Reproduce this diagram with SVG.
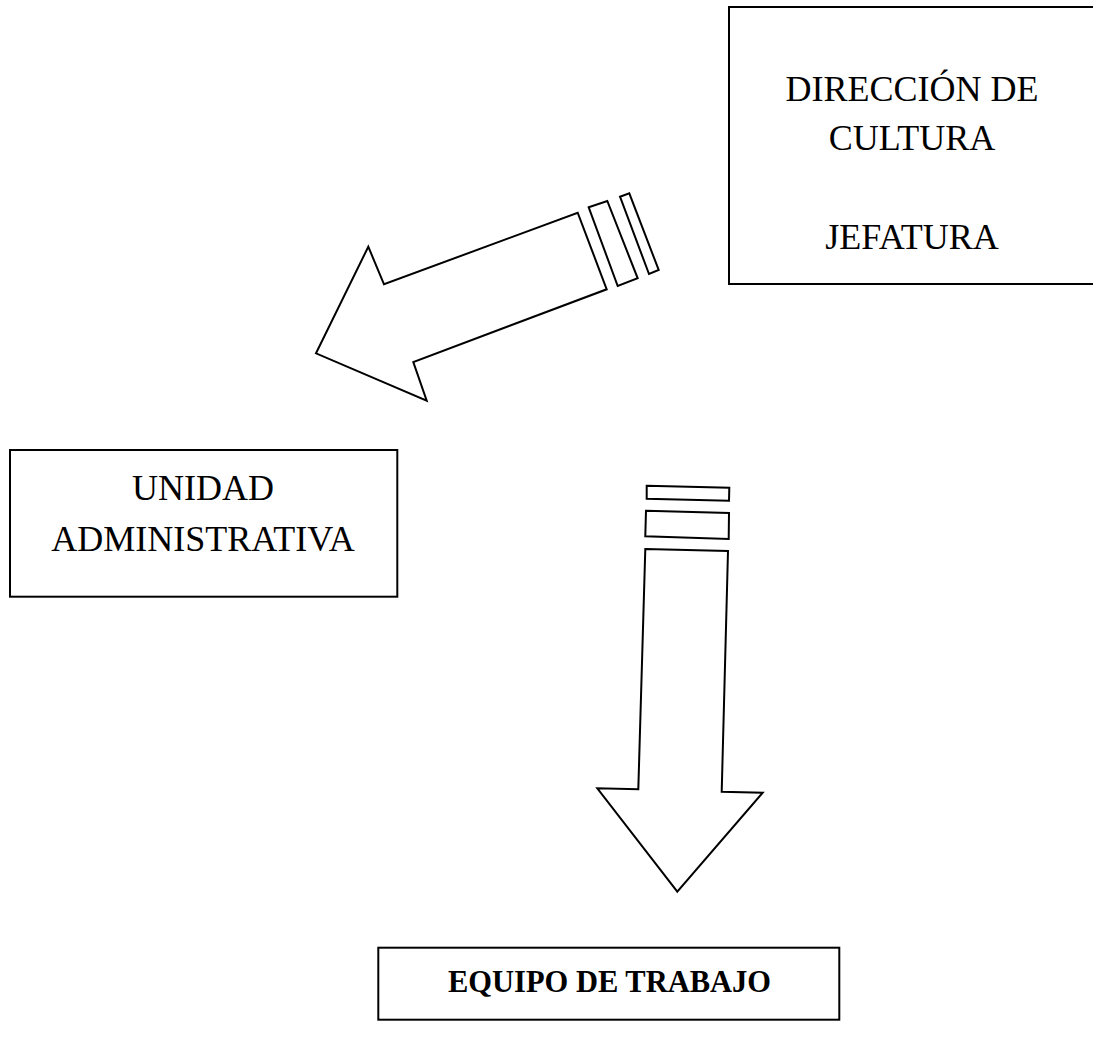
<svg xmlns="http://www.w3.org/2000/svg" width="1093" height="1040" viewBox="0 0 1093 1040">
<style>
.box{fill:#fff;stroke:#000;stroke-width:2}
.arr{fill:#fff;stroke:#000;stroke-width:2;stroke-linejoin:miter}
.t{font-family:"Liberation Serif","Times New Roman",serif;font-size:36px;fill:#000;text-anchor:middle}
.b{font-family:"Liberation Serif","Times New Roman",serif;font-size:30.5px;font-weight:bold;fill:#000;text-anchor:middle}
</style>
<rect width="1093" height="1040" fill="#fff"/>
<g id="direccion">
<rect class="box" x="729" y="7" width="366" height="277"/>
<text class="t" x="912" y="101">DIRECCIÓN DE</text>
<text class="t" x="912" y="150">CULTURA</text>
<text class="t" x="912" y="249">JEFATURA</text>
</g>
<g id="unidad">
<rect class="box" x="10" y="450" width="387.3" height="146.7"/>
<text class="t" x="203" y="500">UNIDAD</text>
<text class="t" x="203" y="550.5">ADMINISTRATIVA</text>
</g>
<g id="equipo">
<rect class="box" x="378.3" y="947.7" width="461" height="72"/>
<text class="b" x="609.5" y="991.7">EQUIPO DE TRABAJO</text>
</g>
<g id="connectors">
<polygon class="arr" points="368.3,246.7 384,284.3 577.7,212.7 606.7,289.3 413.3,362 426.7,400.7 316,353.3"/>
<polygon class="arr" points="588.7,207.3 607.3,201 637.7,278.3 617.7,286"/>
<polygon class="arr" points="620,196.7 629.3,193.3 658.7,270 649,274"/>
<polygon class="arr" points="646.7,485.7 729.3,487.7 729,500.7 646.7,498.7"/>
<polygon class="arr" points="646,510.7 729,513 728.7,539 645.3,536.3"/>
<polygon class="arr" points="645.3,549 728,551 721.7,791.7 762.7,792.7 677.3,891.7 597.3,788.3 638.3,789.3"/>
</g>
</svg>
